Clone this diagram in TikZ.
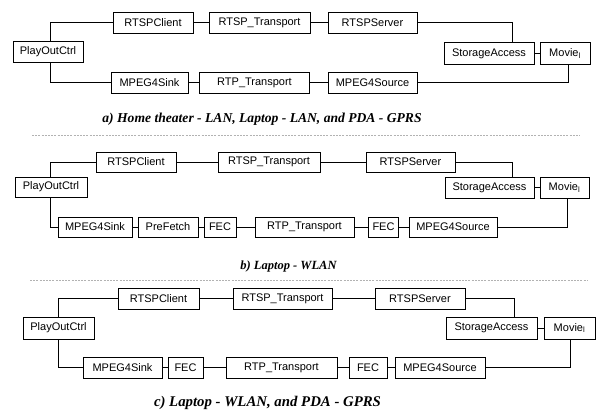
\documentclass[tikz,border=0pt]{standalone}
\usepackage{fontspec}
\setmainfont{Liberation Sans}
\newfontfamily\capfont{Liberation Serif}
\usetikzlibrary{shadows,calc}
\tikzset{
  box/.style={draw=black, line width=0.8pt, fill=white, inner sep=0pt,
    font=\fontsize{11}{12}\selectfont,
    drop shadow={shadow xshift=0.7pt, shadow yshift=-0.7pt, fill=black, opacity=1}},
  conn/.style={draw=black, line width=0.7pt},
  captxt/.style={font=\capfont\bfseries\itshape, inner sep=0pt},
  sepline/.style={draw=gray!60, line width=0.6pt, dash pattern=on 2pt off 1.2pt}
}
\newcommand{\bx}[6]{\node[box, minimum width=#4pt, minimum height=#5pt] (#1) at (#2,#3) {#6};}
\begin{document}
\begin{tikzpicture}[x=1pt,y=-1pt]
\useasboundingbox (0,0) rectangle (597,412);
% ---------- panel a
\bx{aRC}{153}{22.5}{80}{21}{RTSPClient}
\bx{aRT}{259.5}{22.5}{101}{21}{RTSP\_Transport}
\bx{aRS}{372.5}{22.5}{89}{21}{RTSPServer}
\bx{aPO}{48}{52}{70}{21}{PlayOutCtrl}
\bx{aMS}{149.5}{82.5}{77}{21}{MPEG4Sink}
\bx{aRP}{254.5}{82.5}{110}{21}{RTP\_Transport}
\bx{aMSo}{372.5}{82.5}{89}{21}{MPEG4Source}
\bx{aSA}{489}{53.5}{90}{22}{StorageAccess}
\bx{aMV}{565}{53.5}{50}{22}{Movie\textsubscript{l}}
\coordinate (aPOt) at ($(aPO.north)+(2,0)$);
\coordinate (aPOb) at ($(aPO.south)+(2,0)$);
\coordinate (aSAt) at ($(aSA.north)+(23,0)$);
\coordinate (aMVb) at ($(aMV.south)+(3,0)$);
\draw[conn] (aPOt) |- (aRC.west);
\draw[conn] (aPOb) |- (aMS.west);
\draw[conn] (aRC) -- (aRT);
\draw[conn] (aRT) -- (aRS);
\draw[conn] (aRS.east) -| (aSAt);
\draw[conn] (aSA) -- (aMV);
\draw[conn] (aMS) -- (aRP);
\draw[conn] (aRP) -- (aMSo);
\draw[conn] (aMVb) |- (aMSo.east);
\node[captxt, font=\capfont\bfseries\itshape\fontsize{13.6}{15}\selectfont] (capa) at (262,119) {a) Home theater - LAN, Laptop - LAN, and PDA - GPRS};
\coordinate (s1a) at (32,135);
\coordinate (s1b) at (580,135);
\draw[sepline] (s1a) -- (s1b);
% ---------- panel b
\bx{bRC}{136}{162}{80}{20}{RTSPClient}
\bx{bRT}{269}{162}{102}{20}{RTSP\_Transport}
\bx{bRS}{410.5}{162}{89}{20}{RTSPServer}
\bx{bPO}{51}{187}{72}{20}{PlayOutCtrl}
\bx{bMS}{95}{227}{74}{20}{MPEG4Sink}
\bx{bPF}{168}{227}{60}{20}{PreFetch}
\bx{bF1}{220}{227}{32}{20}{FEC}
\bx{bRP}{304.5}{227}{99}{20}{RTP\_Transport}
\bx{bF2}{383.5}{227}{30}{20}{FEC}
\bx{bMSo}{453}{227}{88}{20}{MPEG4Source}
\bx{bSA}{489.5}{187.5}{89}{21}{StorageAccess}
\bx{bMV}{564.5}{187.5}{49}{21}{Movie\textsubscript{l}}
\coordinate (bPOt) at ($(bPO.north)+(-1,0)$);
\coordinate (bPOb) at ($(bPO.south)+(-1,0)$);
\coordinate (bSAt) at ($(bSA.north)+(22.5,0)$);
\coordinate (bMVb) at ($(bMV.south)+(2.5,0)$);
\draw[conn] (bPOt) |- (bRC.west);
\draw[conn] (bPOb) |- (bMS.west);
\draw[conn] (bRC) -- (bRT);
\draw[conn] (bRT) -- (bRS);
\draw[conn] (bRS.east) -| (bSAt);
\draw[conn] (bSA) -- (bMV);
\draw[conn] (bMS) -- (bPF);
\draw[conn] (bPF) -- (bF1);
\draw[conn] (bF1) -- (bRP);
\draw[conn] (bRP) -- (bF2);
\draw[conn] (bF2) -- (bMSo);
\draw[conn] (bMVb) |- (bMSo.east);
\node[captxt, font=\capfont\bfseries\itshape\fontsize{12.5}{14}\selectfont] (capb) at (288.5,266) {b) Laptop - WLAN};
\coordinate (s2a) at (30,280);
\coordinate (s2b) at (587,280);
\draw[sepline] (s2a) -- (s2b);
% ---------- panel c
\bx{cRC}{158.5}{298.5}{81}{21}{RTSPClient}
\bx{cRT}{282.5}{298.5}{99}{21}{RTSP\_Transport}
\bx{cRS}{420}{298.5}{90}{21}{RTSPServer}
\bx{cPO}{58.5}{328}{71}{22}{PlayOutCtrl}
\bx{cMS}{122.5}{367.5}{79}{21}{MPEG4Sink}
\bx{cF1}{185.5}{367.5}{35}{21}{FEC}
\bx{cRP}{281.5}{367.5}{111}{21}{RTP\_Transport}
\bx{cF2}{368}{367.5}{38}{21}{FEC}
\bx{cMSo}{440}{367.5}{90}{21}{MPEG4Source}
\bx{cSA}{491.5}{328}{91}{22}{StorageAccess}
\bx{cMV}{569.5}{328}{51}{22}{Movie\textsubscript{l}}
\coordinate (cSAt) at ($(cSA.north)+(22.5,0)$);
\coordinate (cMVb) at ($(cMV.south)+(0.5,0)$);
\draw[conn] (cPO.north) |- (cRC.west);
\draw[conn] (cPO.south) |- (cMS.west);
\draw[conn] (cRC) -- (cRT);
\draw[conn] (cRT) -- (cRS);
\draw[conn] (cRS.east) -| (cSAt);
\draw[conn] (cSA) -- (cMV);
\draw[conn] (cMS) -- (cF1);
\draw[conn] (cF1) -- (cRP);
\draw[conn] (cRP) -- (cF2);
\draw[conn] (cF2) -- (cMSo);
\draw[conn] (cMVb) |- (cMSo.east);
\node[captxt, font=\capfont\bfseries\itshape\fontsize{14.8}{16}\selectfont] (capc) at (267.5,403) {c) Laptop - WLAN, and PDA - GPRS};
\end{tikzpicture}
\end{document}
